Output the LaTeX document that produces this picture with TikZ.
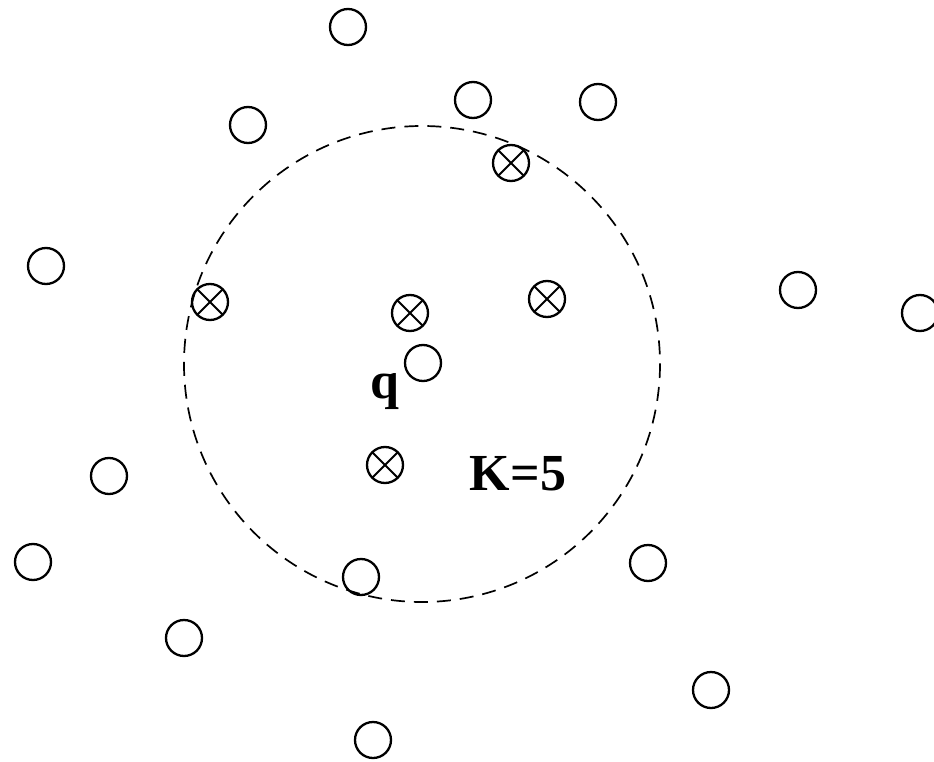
\documentclass[tikz,border=0pt]{standalone}
\usepackage{fontspec}
\setmainfont{Liberation Serif}
\begin{document}
\begin{tikzpicture}[x=1pt,y=-1pt,
  pt/.style={draw,circle,line width=2.3pt,minimum size=36pt,inner sep=0pt},
  xpt/.style={pt,path picture={
     \draw[line width=2pt] ([shift={(-12.7pt,-12.7pt)}]path picture bounding box.center)--([shift={(12.7pt,12.7pt)}]path picture bounding box.center)
       ([shift={(12.7pt,-12.7pt)}]path picture bounding box.center)--([shift={(-12.7pt,12.7pt)}]path picture bounding box.center);}},
  ring/.style={draw,dashed,dash pattern=on 14pt off 9pt,line width=1.7pt},
  lbl/.style={font=\fontsize{52}{52}\selectfont\bfseries,inner sep=0pt}]
\useasboundingbox (0,0) rectangle (934,762);
\draw[ring] (422,364) circle (238);
\node[pt] (p1) at (348,27) {};
\node[pt] (p2) at (473,100) {};
\node[pt] (p3) at (598,102) {};
\node[pt] (p4) at (248,125) {};
\node[pt] (p5) at (46,266) {};
\node[pt] (p6) at (798,290) {};
\node[pt] (p7) at (920,313) {};
\node[pt] (p8) at (423,363) {};
\node[pt] (p9) at (109,476) {};
\node[pt] (p10) at (33,562) {};
\node[pt] (p11) at (361,577) {};
\node[pt] (p12) at (648,563) {};
\node[pt] (p13) at (184,638) {};
\node[pt] (p14) at (711,690) {};
\node[pt] (p15) at (373,740) {};
\node[xpt] (x1) at (511,163) {};
\node[xpt] (x2) at (210,302) {};
\node[xpt] (x3) at (410,313) {};
\node[xpt] (x4) at (547,299) {};
\node[xpt] (x5) at (385,465) {};
\node[lbl] (q) at (385,392) {q};
\node[lbl] (k) at (518,474) {K=5};
\end{tikzpicture}
\end{document}
